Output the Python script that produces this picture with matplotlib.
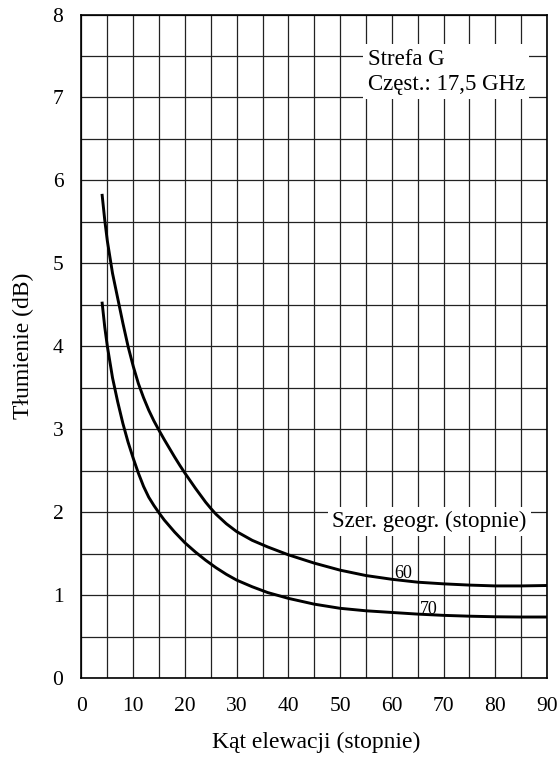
import matplotlib.pyplot as plt
from matplotlib.ticker import MultipleLocator

plt.rcParams['font.family'] = ['Liberation Serif', 'DejaVu Serif']

# Kąt elewacji (stopnie) / tłumienie (dB)
elev_60 = [4, 4.5, 5, 6, 7, 8, 9, 10, 11, 12, 13, 14, 15, 16, 17, 18, 19, 20, 22, 24, 25, 26,
           28, 30, 33, 36, 40, 45, 50, 55, 60, 65, 70, 75, 80, 85, 90]
att_60 = [5.82, 5.52, 5.27, 4.88, 4.58, 4.28, 4.0, 3.76, 3.55, 3.38, 3.23, 3.10, 2.985, 2.875,
          2.77, 2.665, 2.565, 2.47, 2.29, 2.12, 2.045, 1.975, 1.86, 1.765, 1.66, 1.58, 1.485,
          1.385, 1.30, 1.235, 1.19, 1.155, 1.135, 1.12, 1.11, 1.11, 1.115]

elev_70 = [4, 4.5, 5, 6, 7, 8, 9, 10, 11, 12, 13, 14, 15, 16, 18, 20, 22, 24, 26, 28, 30, 33,
           36, 40, 45, 50, 55, 60, 65, 70, 75, 80, 85, 90]
att_70 = [4.52, 4.23, 4.0, 3.62, 3.33, 3.07, 2.845, 2.65, 2.47, 2.31, 2.18, 2.08, 1.99, 1.905,
          1.76, 1.63, 1.52, 1.42, 1.33, 1.25, 1.18, 1.10, 1.03, 0.96, 0.89, 0.84, 0.81, 0.79,
          0.77, 0.755, 0.745, 0.738, 0.735, 0.735]

fig = plt.figure(figsize=(5.6, 7.57), dpi=100)
ax = fig.add_axes([0.1455, 0.1044, 0.8313, 0.8764])

ax.plot(elev_60, att_60, color='black', lw=2.1, zorder=3, solid_joinstyle='round')
ax.plot(elev_70, att_70, color='black', lw=2.1, zorder=3, solid_joinstyle='round')

ax.set_xlim(0, 90)
ax.set_ylim(0, 8)
ax.xaxis.set_major_locator(MultipleLocator(10))
ax.xaxis.set_minor_locator(MultipleLocator(5))
ax.yaxis.set_major_locator(MultipleLocator(1))
ax.yaxis.set_minor_locator(MultipleLocator(0.5))
ax.grid(which='both', color='#222222', lw=0.9)
ax.set_axisbelow(True)
ax.tick_params(which='both', length=0, labelsize=15.5)
ax.tick_params(axis='x', pad=14)
ax.tick_params(axis='y', pad=13)
for s in ax.spines.values():
    s.set_linewidth(1.2)

ax.text(55.3, 7.59, 'Strefa G\nCzęst.: 17,5 GHz', fontsize=16.5, va='top', ha='left',
        linespacing=1.3, zorder=4,
        bbox=dict(facecolor='white', edgecolor='none', pad=3))
ax.text(48.5, 1.89, 'Szer. geogr. (stopnie)', fontsize=16.5, va='center', ha='left', zorder=4,
        bbox=dict(facecolor='white', edgecolor='none', pad=3))
ax.text(62.2, 1.26, '60', fontsize=13, ha='center', va='center', zorder=4)
ax.text(67.2, 0.83, '70', fontsize=13, ha='center', va='center', zorder=4)

fig.text(316 / 560, 1 - 742.7 / 757, 'Kąt elewacji (stopnie)', fontsize=17, ha='center', va='center')
fig.text(23 / 560, 1 - 346 / 757, 'Tłumienie (dB)', fontsize=17, ha='center', va='center',
         rotation=90)

fig.savefig('out.png', dpi=100)
